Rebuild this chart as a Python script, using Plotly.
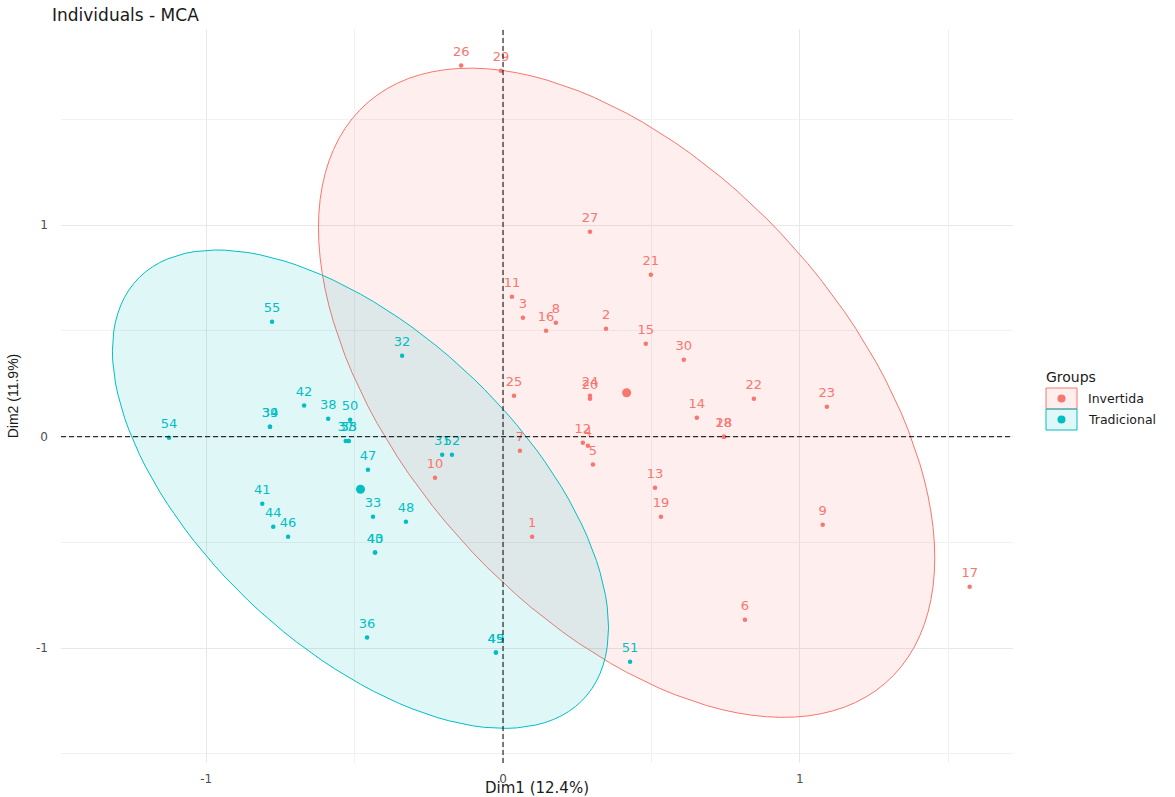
import numpy as np
import plotly.graph_objects as go

# MCA individual coordinates (Dim1, Dim2) by group
inv_ids = ["1", "2", "3", "4", "5", "6", "7", "8", "9", "10",
           "11", "12", "13", "14", "15", "16", "17", "18", "19", "20",
           "21", "22", "23", "24", "25", "26", "27", "28", "29", "30"]
inv_dim1 = [0.098, 0.347, 0.067, 0.286, 0.303, 0.815, 0.057, 0.178, 1.077, -0.229,
            0.030, 0.269, 0.512, 0.653, 0.481, 0.145, 1.572, 0.744, 0.532, 0.293,
            0.498, 0.845, 1.091, 0.293, 0.037, -0.141, 0.293, 0.744, -0.007, 0.609]
inv_dim2 = [-0.473, 0.511, 0.563, -0.043, -0.132, -0.865, -0.066, 0.539, -0.416, -0.194,
            0.662, -0.028, -0.241, 0.090, 0.440, 0.501, -0.709, 0.000, -0.378, 0.180,
            0.766, 0.180, 0.142, 0.194, 0.194, 1.755, 0.969, 0.000, 1.730, 0.364]

tra_ids = ["31", "32", "33", "34", "35", "36", "37", "38", "39", "40",
           "41", "42", "43", "44", "45", "46", "47", "48", "49", "50",
           "51", "52", "53", "54", "55"]
tra_dim1 = [-0.205, -0.340, -0.438, -0.785, -0.520, -0.458, -0.530, -0.589, -0.785, -0.431,
            -0.811, -0.670, -0.431, -0.774, -0.024, -0.724, -0.455, -0.327, -0.024, -0.515,
            0.428, -0.172, -0.520, -1.125, -0.778]
tra_dim2 = [-0.085, 0.383, -0.378, 0.047, -0.020, -0.950, -0.020, 0.085, 0.047, -0.548,
            -0.317, 0.147, -0.548, -0.426, -1.021, -0.473, -0.156, -0.402, -1.021, 0.080,
            -1.064, -0.085, -0.020, -0.005, 0.544]

group_names = ["Invertida", "Tradicional"]
group_colors = ["#F8766D", "#00BFC4"]
group_fills = ["rgba(248,118,109,0.12)", "rgba(0,191,196,0.12)"]
# 0.95 quantile of F(2, n-1) for n = 30 and n = 25
f_quantiles = [3.328, 3.403]

axis_ticks = [-1, 0, 1]

FONT = "DejaVu Sans"


def norm_ellipse(x, y, fq, segments=121):
    """Multivariate-normal 95% ellipse, as in stat_ellipse(type='norm')."""
    pts = np.column_stack([x, y])
    center = pts.mean(axis=0)
    cov = np.cov(pts, rowvar=False)
    chol = np.linalg.cholesky(cov).T
    radius = np.sqrt(2 * fq)
    ang = np.linspace(0, 2 * np.pi, segments)
    circle = np.column_stack([np.cos(ang), np.sin(ang)])
    ell = center + radius * circle @ chol
    return ell[:, 0], ell[:, 1], center


fig = go.Figure()

groups = [(inv_ids, inv_dim1, inv_dim2), (tra_ids, tra_dim1, tra_dim2)]

# confidence ellipses first so points sit on top
centers = []
for (ids, gx, gy), col, fill, fq in zip(groups, group_colors, group_fills, f_quantiles):
    ex, ey, c = norm_ellipse(gx, gy, fq)
    centers.append(c)
    fig.add_trace(go.Scatter(x=ex, y=ey, mode="lines", fill="toself",
                             fillcolor=fill, line=dict(color=col, width=1),
                             hoverinfo="skip", showlegend=False))

# dashed reference lines through the origin
fig.add_hline(y=0, line=dict(color="black", width=1, dash="5px,3px"))
fig.add_vline(x=0, line=dict(color="black", width=1, dash="5px,3px"))

for (ids, gx, gy), col, name in zip(groups, group_colors, group_names):
    # point labels, lifted a little above each point
    fig.add_trace(go.Scatter(x=gx, y=gy, mode="markers+text", text=ids,
                             textposition="top center",
                             textfont=dict(color=col, size=13, family=FONT),
                             marker=dict(color="rgba(0,0,0,0)", size=9),
                             hoverinfo="skip", showlegend=False))
    fig.add_trace(go.Scatter(x=gx, y=gy, mode="markers",
                             marker=dict(color=col, size=4.5),
                             name=name, showlegend=False))

# group means
for c, col in zip(centers, group_colors):
    fig.add_trace(go.Scatter(x=[c[0]], y=[c[1]], mode="markers",
                             marker=dict(color=col, size=9),
                             showlegend=False, hoverinfo="skip"))

L, R, T, B = 61, 162, 29, 34
W, H = 1175 - L - R, 797 - T - B


def px_x(p):
    return (p - L) / W


def px_y(p):
    return 1 - (p - T) / H


# legend drawn by hand: filled key boxes with a dot
fig.add_annotation(x=px_x(1044), y=px_y(377), xref="paper", yref="paper",
                   text="Groups", showarrow=False, xanchor="left", yanchor="middle",
                   font=dict(size=14, color="#1A1A1A", family=FONT))
for i, (name, col, fill) in enumerate(zip(group_names, group_colors, group_fills)):
    top = 388 + i * 21
    fig.add_shape(type="rect", xref="paper", yref="paper",
                  x0=px_x(1046), x1=px_x(1077), y0=px_y(top), y1=px_y(top + 21),
                  fillcolor=fill, line=dict(color=col, width=1))
    fig.add_shape(type="circle", xref="paper", yref="paper",
                  x0=px_x(1057.5), x1=px_x(1065.5),
                  y0=px_y(top + 6.5), y1=px_y(top + 14.5),
                  fillcolor=col, line=dict(width=0))
    fig.add_annotation(x=px_x(1086), y=px_y(top + 10.5), xref="paper", yref="paper",
                       text=name, showarrow=False, xanchor="left", yanchor="middle",
                       font=dict(size=12.5, color="#1A1A1A", family=FONT))

fig.update_layout(
    width=1175, height=797,
    margin=dict(l=L, r=R, t=T, b=B),
    paper_bgcolor="white", plot_bgcolor="white",
    showlegend=False,
    title=dict(text="Individuals - MCA", x=52 / 1175, xanchor="left",
               y=1 - 15 / 797, yanchor="middle",
               font=dict(size=17, color="#1A1A1A", family=FONT)),
    font=dict(family=FONT),
)
fig.update_xaxes(range=[-1.489, 1.718], tickvals=axis_ticks,
                 ticktext=[str(v) for v in axis_ticks],
                 showgrid=True, gridcolor="#E8E8E8", gridwidth=1,
                 minor=dict(dtick=0.5, tick0=0, showgrid=True, gridcolor="#F1F1F1", gridwidth=1),
                 zeroline=False, showline=False, ticks="", automargin=False,
                 ticklabelstandoff=7,
                 tickfont=dict(size=12, color="#4D4D4D", family=FONT),
                 title=dict(text="Dim1 (12.4%)", font=dict(size=15, color="#1A1A1A", family=FONT),
                            standoff=0))
fig.update_yaxes(range=[-1.543, 1.928], tickvals=axis_ticks,
                 ticktext=[str(v) for v in axis_ticks],
                 showgrid=True, gridcolor="#E8E8E8", gridwidth=1,
                 minor=dict(dtick=0.5, tick0=0, showgrid=True, gridcolor="#F1F1F1", gridwidth=1),
                 zeroline=False, showline=False, ticks="", automargin=False,
                 ticklabelstandoff=12,
                 tickfont=dict(size=12, color="#4D4D4D", family=FONT),
                 title=dict(text="Dim2 (11.9%)", font=dict(size=14, color="#1A1A1A",
                                                          family="Liberation Sans"),
                            standoff=14))

fig.write_html("out.html")
